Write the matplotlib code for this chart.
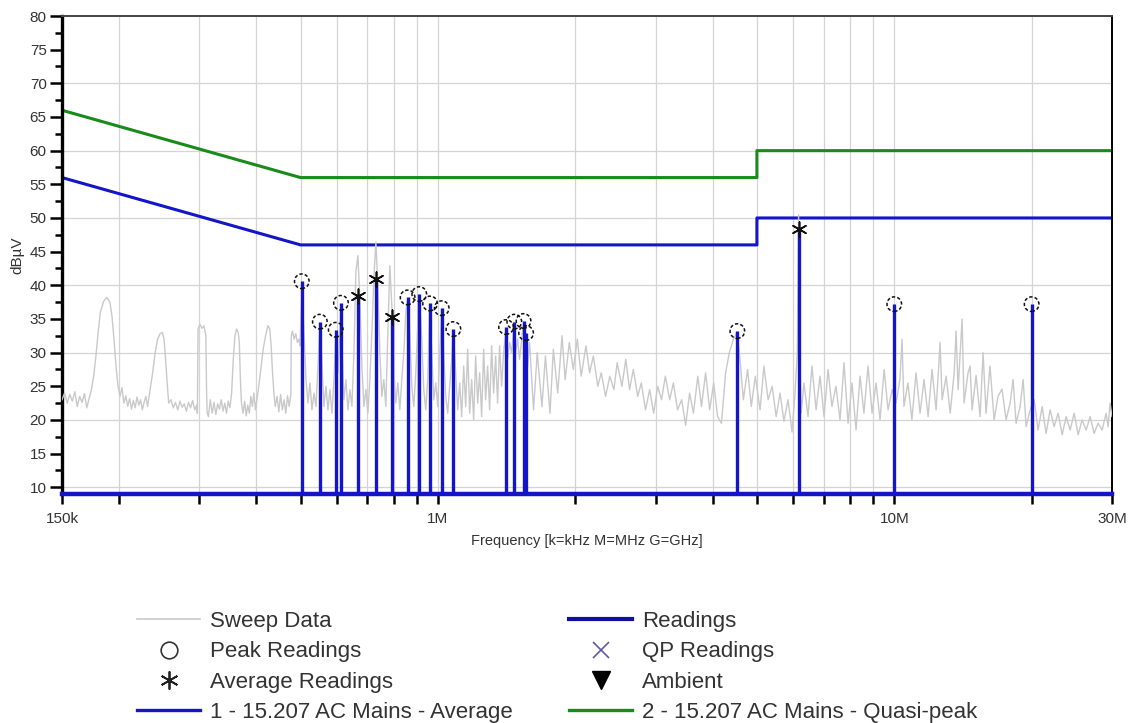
"""
plot.py
-------
Conducted emissions scan (FCC 15.207 AC mains) -- sweep trace, readings and limits.
"""

import matplotlib
matplotlib.use("Agg")
import matplotlib.pyplot as plt
from matplotlib.lines import Line2D
from matplotlib.ticker import FixedLocator, FixedFormatter, MultipleLocator, NullFormatter

plt.rcParams["font.family"] = ["Liberation Sans", "DejaVu Sans"]

# ── Sweep trace (MHz, dBuV) ────────────────────────────────────────────────
SWEEP_MHZ = [
    0.150, 0.152, 0.154, 0.156, 0.158, 0.160, 0.162, 0.164, 0.166, 0.168, 0.170, 0.172, 0.174,
    0.176, 0.178, 0.180, 0.182, 0.185, 0.188, 0.191, 0.193, 0.195, 0.197, 0.199, 0.201,
    0.203, 0.205, 0.207, 0.209, 0.211, 0.213, 0.215, 0.217, 0.219, 0.221, 0.223, 0.225, 0.227, 0.229, 0.231,
    0.234, 0.237, 0.240, 0.243, 0.246, 0.249, 0.251, 0.253, 0.255, 0.257,
    0.260, 0.263, 0.266, 0.269, 0.272, 0.275, 0.278, 0.281, 0.284, 0.287, 0.290, 0.293, 0.296,
    0.297, 0.298, 0.301, 0.304, 0.307, 0.310, 0.311, 0.312,
    0.314, 0.317, 0.320, 0.323, 0.326, 0.329, 0.332, 0.335, 0.338, 0.341, 0.344, 0.347, 0.350,
    0.353, 0.356, 0.359, 0.362, 0.365, 0.367, 0.369, 0.371,
    0.374, 0.377, 0.380, 0.383, 0.386, 0.389, 0.392, 0.395, 0.398, 0.401,
    0.404, 0.409, 0.414, 0.419, 0.424, 0.428, 0.431, 0.434, 0.437,
    0.440, 0.444, 0.448, 0.452, 0.456, 0.460, 0.464, 0.468, 0.472, 0.476,
    0.477, 0.480, 0.484, 0.488, 0.492, 0.496,
    0.4985, 0.5035, 0.5086, 0.5138, 0.519, 0.5242, 0.5295, 0.5349, 0.5403, 0.5458, 0.5513, 0.5569,
    0.5625, 0.5682, 0.574, 0.5798, 0.5857, 0.5916, 0.5976, 0.6036, 0.6097, 0.6128, 0.6159, 0.6222,
    0.6285, 0.6348, 0.6413, 0.6478, 0.6543, 0.6609, 0.6676, 0.6744, 0.6812, 0.6881, 0.6951, 0.7021,
    0.7092, 0.7164, 0.7236, 0.7310, 0.7384, 0.7458, 0.7534, 0.7610, 0.7687, 0.7765, 0.7844, 0.7923,
    0.8003, 0.8084, 0.8166, 0.8249, 0.8332, 0.8417, 0.8502, 0.8588, 0.8675, 0.8763, 0.8852, 0.8941,
    0.9032, 0.9100, 0.9215, 0.9309, 0.9403, 0.9498, 0.9594, 0.9691, 0.9790, 0.9889, 0.9989, 1.0090,
    1.0192, 1.0295, 1.0399, 1.0504, 1.0611, 1.0718, 1.0810, 1.0936, 1.1047, 1.1159, 1.1272, 1.1386,
    1.1501, 1.1617, 1.1735, 1.1854, 1.1974, 1.2095, 1.2217, 1.2341, 1.2466, 1.2592, 1.2719, 1.2848,
    1.2978, 1.3109, 1.3242, 1.3376, 1.3512, 1.3648, 1.3787, 1.3926, 1.4100, 1.4209, 1.4353, 1.4498,
    1.4700, 1.4793, 1.4943, 1.5094, 1.5400, 1.5500, 1.5600, 1.5714, 1.5873,
    1.62, 1.65, 1.69, 1.72, 1.76, 1.79, 1.83, 1.87, 1.90, 1.94, 1.98, 2.02, 2.06, 2.11, 2.15, 2.19,
    2.24, 2.28, 2.33, 2.38, 2.43, 2.47, 2.53, 2.58, 2.63, 2.68, 2.74, 2.79, 2.85, 2.91, 2.97, 3.03,
    3.09, 3.15, 3.22, 3.28, 3.35, 3.42, 3.49, 3.56, 3.63, 3.71, 3.78, 3.86, 3.94, 4.02, 4.10, 4.18,
    4.27, 4.35, 4.44, 4.52, 4.59, 4.67, 4.77, 4.86, 4.96, 5.08,
    5.18, 5.29, 5.40, 5.51, 5.62, 5.73, 5.85, 5.97, 6.06, 6.13, 6.17, 6.19, 6.25, 6.34, 6.47, 6.60,
    6.74, 6.875, 7.015, 7.16, 7.30, 7.45, 7.605, 7.76, 7.92, 8.08, 8.245, 8.413, 8.58, 8.76, 8.94,
    9.12, 9.306, 9.50, 9.69, 9.89, 10.09, 10.29, 10.40, 10.50, 10.71, 10.93, 11.16, 11.39, 11.62,
    11.86, 12.10, 12.35, 12.60, 12.73, 12.99, 13.26, 13.53, 13.66, 13.80, 14.08, 14.22, 14.51, 14.66,
    14.81, 15.11, 15.42, 15.65, 15.89, 16.21, 16.55, 16.88, 17.22, 17.58, 17.94, 18.21, 18.49, 18.87,
    19.16, 19.45, 19.85, 20.26, 20.66, 21.09, 21.51, 21.96, 22.40, 22.86, 23.33, 23.80, 24.29, 24.78,
    25.29, 25.80, 26.33, 26.87, 27.41, 27.97, 28.54, 29.12, 29.42, 29.71, 30.0,
]
SWEEP_DBUV = [
    23.0, 24.0, 22.5, 23.8, 22.8, 24.2, 22.0, 23.5, 22.6, 23.9, 21.8, 23.2, 24.5,
    26.5, 29.5, 33.0, 36.0, 37.6, 38.2, 37.5, 35.5, 32.0, 28.0, 25.0, 23.5,
    24.8, 22.5, 23.6, 22.0, 23.2, 21.6, 22.9, 21.8, 23.4, 22.2, 23.0, 21.5, 22.6, 23.5, 22.0,
    24.5, 27.0, 30.0, 32.0, 32.8, 33.0, 32.0, 29.0, 25.5, 22.5,
    23.0, 21.8, 22.6, 21.5, 22.8, 21.9, 22.4, 21.3, 22.6, 21.8, 22.9, 21.5, 22.2,
    21.0, 33.5, 34.2, 33.6, 34.0, 32.5, 25.0, 21.0,
    20.5, 23.0, 21.0, 22.6, 20.8, 22.4, 21.6, 23.0, 21.3, 22.5, 21.0, 22.8, 21.8,
    24.0, 29.0, 32.5, 33.5, 33.0, 31.5, 26.0, 22.5,
    21.0, 22.8, 20.6, 22.2, 21.0, 23.5, 22.0, 24.0, 21.5, 23.0,
    24.5, 27.5, 30.5, 32.5, 34.0, 33.5, 31.0, 27.0, 24.0,
    22.0, 23.5, 21.2, 23.8, 21.5, 23.0, 21.0, 23.6, 22.0, 23.8,
    32.5, 33.2, 32.0, 32.8, 31.5, 32.0,
    31.0, 39.5, 33.0, 26.0, 22.5, 25.5, 21.5, 24.0, 22.0, 28.0, 34.0, 28.5,
    22.0, 25.0, 21.5, 24.5, 21.0, 26.0, 33.0, 27.0, 33.0, 37.0, 31.0, 23.0,
    26.0, 21.5, 24.5, 22.0, 30.0, 42.0, 44.4, 38.0, 28.0, 22.0, 24.5, 21.0,
    26.0, 33.0, 41.0, 46.4, 40.0, 30.0, 23.5, 26.0, 22.0, 33.0, 42.9, 37.0,
    27.0, 22.5, 25.5, 21.5, 26.0, 30.0, 36.0, 38.0, 33.0, 25.0, 22.0, 27.0,
    34.0, 38.5, 32.0, 24.5, 21.5, 26.0, 37.0, 30.0, 23.0, 25.5, 22.0, 30.0,
    36.4, 30.0, 23.5, 21.0, 25.0, 29.0, 33.3, 27.0, 21.5, 25.5, 20.5, 28.0,
    22.0, 30.5, 21.0, 26.0, 20.0, 29.5, 22.5, 27.0, 20.5, 30.5, 23.0, 28.0,
    21.5, 31.0, 24.0, 29.5, 22.5, 31.0, 25.0, 30.0, 33.5, 29.0, 31.5, 30.0,
    34.5, 30.0, 32.0, 29.0, 34.5, 31.0, 32.8, 28.0, 31.5,
    21.5, 30.0, 22.0, 29.5, 21.0, 30.5, 24.0, 32.5, 26.0, 31.5, 27.5, 32.0, 26.5, 31.0, 27.0, 29.5,
    25.0, 27.0, 23.5, 26.5, 24.5, 28.5, 25.0, 29.0, 24.5, 27.5, 23.5, 25.5, 21.5, 24.5, 21.0, 25.0,
    23.0, 26.5, 23.0, 25.5, 21.5, 23.0, 19.2, 24.0, 21.0, 26.5, 22.0, 27.0, 21.5, 25.5, 20.5, 19.5,
    27.0, 30.0, 32.0, 33.0, 29.0, 23.0, 27.5, 22.0, 26.5, 21.5,
    28.0, 23.0, 25.0, 20.5, 24.0, 19.8, 23.0, 18.2, 24.0, 30.0, 50.5, 32.0, 21.0, 25.5, 20.5, 28.0,
    21.5, 26.5, 20.5, 27.5, 22.0, 25.0, 20.0, 28.5, 19.5, 25.5, 18.5, 26.5, 21.0, 28.0, 21.0,
    25.5, 20.0, 27.5, 21.5, 24.5, 22.5, 26.0, 32.0, 22.0, 25.5, 20.0, 27.0, 21.0, 26.0,
    20.5, 27.5, 21.5, 31.5, 23.0, 26.5, 21.0, 27.0, 33.2, 24.5, 35.0, 22.5, 27.0, 28.0,
    21.5, 26.6, 20.5, 30.0, 21.0, 28.0, 20.0, 23.5, 24.6, 20.0, 22.5, 26.0, 19.5, 22.0,
    26.0, 19.0, 21.5, 23.0, 18.5, 22.0, 18.0, 21.5, 19.0, 21.0, 17.8, 20.5, 18.5, 21.0,
    17.8, 20.0, 18.5, 20.5, 18.0, 19.5, 18.5, 21.0, 19.0, 22.5, 20.5,
]

# ── Final readings ─────────────────────────────────────────────────────────
PEAK_MHZ  = [0.503, 0.551, 0.597, 0.613, 0.858, 0.910, 0.961, 1.019, 1.081,
             1.41, 1.47, 1.54, 1.56, 4.53, 10.0, 20.0]
PEAK_DBUV = [40.6, 34.6, 33.4, 37.4, 38.2, 38.7, 37.3, 36.6, 33.5,
             33.8, 34.6, 34.7, 32.9, 33.2, 37.2, 37.2]
AVG_MHZ   = [0.667, 0.730, 0.792, 6.17]
AVG_DBUV  = [38.4, 41.0, 35.3, 48.4]

# ── Limit lines ────────────────────────────────────────────────────────────
LIMIT_MHZ      = [0.15, 0.5, 5.0, 5.0, 30.0]
QP_LIMIT_DBUV  = [66, 56, 56, 60, 60]
AVG_LIMIT_DBUV = [56, 46, 46, 50, 50]

# ── Axis ticks ─────────────────────────────────────────────────────────────
X_TICK_MHZ = [0.15, 0.2, 0.3, 0.4, 0.5, 0.6, 0.7, 0.8, 0.9,
              1, 2, 3, 4, 5, 6, 7, 8, 9, 10, 20, 30]
X_LABELS   = {0.15: "150k", 1: "1M", 10: "10M", 30: "30M"}
Y_MIN, Y_MAX = 9, 80

BLUE  = "#1414c8"
GREEN = "#1a8a1a"
GRAY  = "#c9c9c9"
GRID  = "#d4d4d4"
TEXT  = "#333333"

fig = plt.figure(figsize=(11.31, 7.23), dpi=100)
ax = fig.add_axes([62 / 1131, 1 - 494 / 723, 1050 / 1131, 478 / 723])
ax.set_xscale("log")
ax.set_xlim(0.15, 30)
ax.set_ylim(Y_MIN, Y_MAX)

# grid
for f in X_TICK_MHZ[1:-1]:
    ax.axvline(f, color=GRID, lw=0.9, zorder=0)
for v in range(10, 80, 10):
    ax.axhline(v, color=GRID, lw=0.9, zorder=0)

# limits and sweep
ax.plot(LIMIT_MHZ, AVG_LIMIT_DBUV, color=BLUE, lw=2.2, zorder=2)
ax.plot(LIMIT_MHZ, QP_LIMIT_DBUV, color=GREEN, lw=2.2, zorder=2)
ax.plot(SWEEP_MHZ, SWEEP_DBUV, color=GRAY, lw=1.0, zorder=3)

# readings: stems from the floor plus markers
all_mhz = PEAK_MHZ + AVG_MHZ
all_dbuv = PEAK_DBUV + AVG_DBUV
ax.vlines(all_mhz, Y_MIN, all_dbuv, color=BLUE, lw=2.4, zorder=4)
ax.axhline(Y_MIN, color=BLUE, lw=3.2, zorder=5, clip_on=False)
ax.scatter(PEAK_MHZ, PEAK_DBUV, s=110, facecolors="none", edgecolors="#111111",
           linewidths=1.1, linestyles=(0, (2.2, 1.4)), zorder=6)
ax.scatter(AVG_MHZ, AVG_DBUV, s=110, marker=(6, 2, 0), color="#111111",
           linewidths=1.2, zorder=6)

# spines / ticks
ax.spines["left"].set_linewidth(2.4)
ax.spines["left"].set_color("black")
ax.spines["top"].set_linewidth(1.4)
ax.spines["top"].set_color("#444444")
ax.spines["right"].set_linewidth(1.4)
ax.spines["right"].set_color("black")
ax.spines["bottom"].set_visible(False)

ax.xaxis.set_major_locator(FixedLocator(X_TICK_MHZ))
ax.xaxis.set_major_formatter(FixedFormatter([X_LABELS.get(f, "") for f in X_TICK_MHZ]))
ax.xaxis.set_minor_formatter(NullFormatter())
ax.xaxis.set_minor_locator(FixedLocator([]))
ax.tick_params(axis="x", direction="out", length=7, width=1.8, color="black",
               labelsize=11, labelcolor=TEXT, pad=6)
ax.yaxis.set_major_locator(MultipleLocator(5))
ax.yaxis.set_minor_locator(MultipleLocator(2.5))
ax.tick_params(axis="y", which="major", direction="out", length=9, width=1.8,
               color="black", labelsize=11, labelcolor=TEXT, pad=2)
ax.tick_params(axis="y", which="minor", direction="out", length=5, width=1.8, color="black")

ax.set_xlabel("Frequency [k=kHz M=MHz G=GHz]", fontsize=10.5, color=TEXT, labelpad=6)
ax.set_ylabel("dBµV", fontsize=11, color=TEXT, labelpad=4)

# legend
handles = [
    Line2D([], [], color=GRAY, lw=1.2, label="Sweep Data"),
    Line2D([], [], ls="none", marker="o", mfc="none", mec="#333333", mew=1.2, ms=12,
           label="Peak Readings"),
    Line2D([], [], ls="none", marker=(6, 2, 0), color="#222222", mew=1.3, ms=13,
           label="Average Readings"),
    Line2D([], [], color=BLUE, lw=2.4, label="1 - 15.207 AC Mains - Average"),
    Line2D([], [], color="#1010a0", lw=3, label="Readings"),
    Line2D([], [], ls="none", marker="x", color="#5a5aa8", mew=1.2, ms=11, label="QP Readings"),
    Line2D([], [], ls="none", marker="v", color="black", ms=13, label="Ambient"),
    Line2D([], [], color=GREEN, lw=2.4, label="2 - 15.207 AC Mains - Quasi-peak"),
]
fig.legend(handles=handles, loc="upper left", bbox_to_anchor=(137 / 1131, 1 - 611 / 723),
           ncol=2, frameon=False, fontsize=16, labelcolor=TEXT, handlelength=2.85,
           handletextpad=0.45, columnspacing=2.52, labelspacing=0.42, borderpad=0,
           borderaxespad=0)

fig.savefig("out.png", dpi=100)
